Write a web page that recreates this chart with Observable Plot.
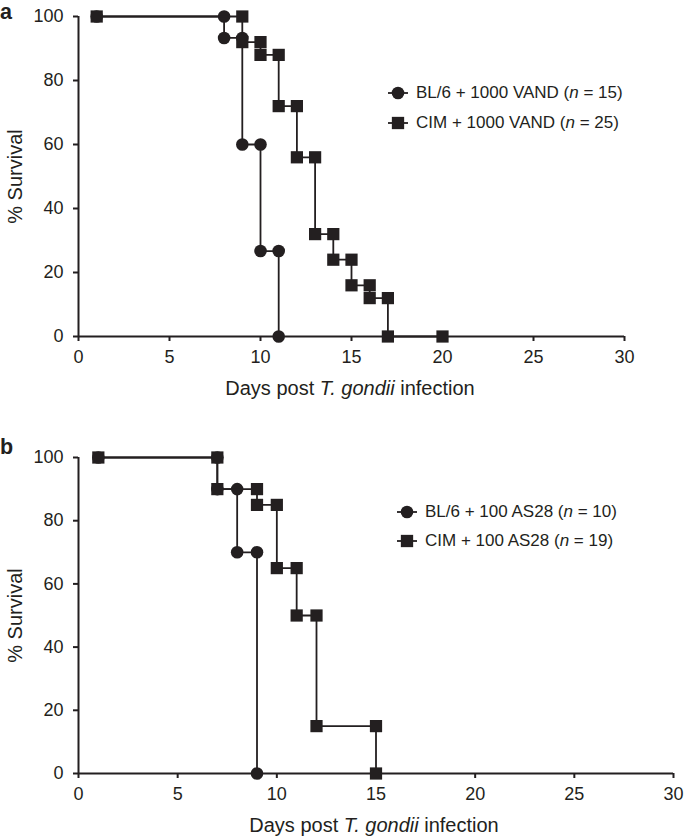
<!DOCTYPE html>
<html>
<head>
<meta charset="utf-8">
<script src="https://cdn.jsdelivr.net/npm/d3@7"></script>
<script src="https://cdn.jsdelivr.net/npm/@observablehq/plot@0.6"></script>
<style>
  body { margin: 0; background: #fff; }
  #root { position: relative; width: 685px; height: 837px; font-family: "Liberation Sans", Arial, Helvetica, sans-serif; color: #231f20; overflow: hidden; }
  .panel { position: absolute; left: 0; }
  .tag { position: absolute; left: 0; font-weight: bold; font-size: 21.5px; line-height: normal; }
  .xlabel { position: absolute; font-size: 20px; line-height: 20px; white-space: nowrap; transform: translateX(-50%); }
  .legrow { position: absolute; height: 20px; display: flex; align-items: center; font-size: 17px; white-space: nowrap; }
  .legrow svg { margin-right: 8px; }
</style>
</head>
<body>
<div id="root"></div>
<script>
const INK = "#231f20";
const FONT = '"Liberation Sans", Arial, Helvetica, sans-serif';

// tick labels
const xTicks = [0, 5, 10, 15, 20, 25, 30];
const yTicks = [0, 20, 40, 60, 80, 100];

// Panel a
const aNames = ["BL/6 + 1000 VAND", "CIM + 1000 VAND"];
const aN = [15, 25];
const aBl6Days = [1, 8, 8, 9, 9, 10, 10, 11, 11];
const aBl6Surv = [100, 100, 93.3, 93.3, 60, 60, 26.7, 26.7, 0];
const aCimDays = [1, 9, 9, 10, 10, 11, 11, 12, 12, 13, 13, 14, 14, 15, 15, 16, 16, 17, 17, 20];
const aCimSurv = [100, 100, 92, 92, 88, 88, 72, 72, 56, 56, 32, 32, 24, 24, 16, 16, 12, 12, 0, 0];

// Panel b
const bNames = ["BL/6 + 100 AS28", "CIM + 100 AS28"];
const bN = [10, 19];
const bBl6Days = [1, 7, 7, 8, 8, 9, 9];
const bBl6Surv = [100, 100, 90, 90, 70, 70, 0];
const bCimDays = [1, 7, 7, 9, 9, 10, 10, 11, 11, 12, 12, 15, 15];
const bCimSurv = [100, 100, 90, 90, 85, 85, 65, 65, 50, 50, 15, 15, 0];

const xLabelHTML = "Days post <i>T. gondii</i> infection";

const rows = (days, surv) => days.map((d, i) => ({day: d, surv: surv[i]}));

function makePanel({width, height, mt, mb, ml, mr, bl6, cim}) {
  const svg = Plot.plot({
    width, height,
    marginTop: mt, marginBottom: mb, marginLeft: ml, marginRight: mr,
    style: {fontFamily: FONT, fontSize: "18px", color: INK, background: "white", overflow: "visible"},
    x: {domain: [0, 30]},
    y: {domain: [0, 100]},
    marks: [
      Plot.axisX({ticks: xTicks, tickSize: 5, tickPadding: 9, strokeWidth: 2, stroke: INK, label: null, fontSize: 18}),
      Plot.axisY({ticks: yTicks, tickSize: 5, tickPadding: 10, strokeWidth: 2, stroke: INK, fontSize: 18,
                  label: "% Survival", labelAnchor: "center", labelArrow: "none", labelOffset: 71}),
      Plot.ruleY([0], {stroke: INK, strokeWidth: 2}),
      Plot.ruleX([0], {stroke: INK, strokeWidth: 2}),
      Plot.line(bl6, {x: "day", y: "surv", stroke: INK, strokeWidth: 1.8}),
      Plot.dot(bl6, {x: "day", y: "surv", r: 6.3, fill: INK, symbol: "circle"}),
      Plot.line(cim, {x: "day", y: "surv", stroke: INK, strokeWidth: 1.8}),
      Plot.dot(cim, {x: "day", y: "surv", r: 6.9, fill: INK, symbol: "square"})
    ]
  });
  d3.select(svg).selectAll('[aria-label="y-axis label"]').attr("font-size", 20);
  return svg;
}

function marker(sym) {
  const s = `<svg width="20" height="14" viewBox="0 0 20 14"><line x1="0" x2="20" y1="7" y2="7" stroke="${INK}" stroke-width="1.8"/>` +
    (sym === "circle"
      ? `<circle cx="10" cy="7" r="6.3" fill="${INK}"/>`
      : `<rect x="3.85" y="0.85" width="12.3" height="12.3" fill="${INK}"/>`) + `</svg>`;
  return s;
}

const root = document.getElementById("root");

function addPanel(top, plotOpts, tag, tagTop, xlabelCenter, xlabelTop, names, ns, legLeft, legTops) {
  const svg = makePanel(plotOpts);
  svg.classList.add("panel");
  svg.style.top = top + "px";
  root.appendChild(svg);

  const t = document.createElement("div");
  t.className = "tag";
  t.style.top = tagTop + "px";
  t.textContent = tag;
  root.appendChild(t);

  const xl = document.createElement("div");
  xl.className = "xlabel";
  xl.style.left = xlabelCenter + "px";
  xl.style.top = xlabelTop + "px";
  xl.innerHTML = xLabelHTML;
  root.appendChild(xl);

  const syms = ["circle", "square"];
  names.forEach((name, i) => {
    const r = document.createElement("div");
    r.className = "legrow";
    r.style.left = legLeft + "px";
    r.style.top = legTops[i] + "px";
    r.innerHTML = marker(syms[i]) + `<span>${name} (<i>n</i> = ${ns[i]})</span>`;
    root.appendChild(r);
  });
}

addPanel(0,
  {width: 685, height: 400, mt: 16, mb: 64, ml: 78, mr: 61,
   bl6: rows(aBl6Days, aBl6Surv), cim: rows(aCimDays, aCimSurv)},
  "a", 0, 350, 378, aNames, aN, 388, [83, 113]);

addPanel(420,
  {width: 685, height: 417, mt: 37, mb: 64, ml: 78, mr: 12,
   bl6: rows(bBl6Days, bBl6Surv), cim: rows(bCimDays, bCimSurv)},
  "b", 435, 374, 815, bNames, bN, 397, [502, 531]);
</script>
</body>
</html>
